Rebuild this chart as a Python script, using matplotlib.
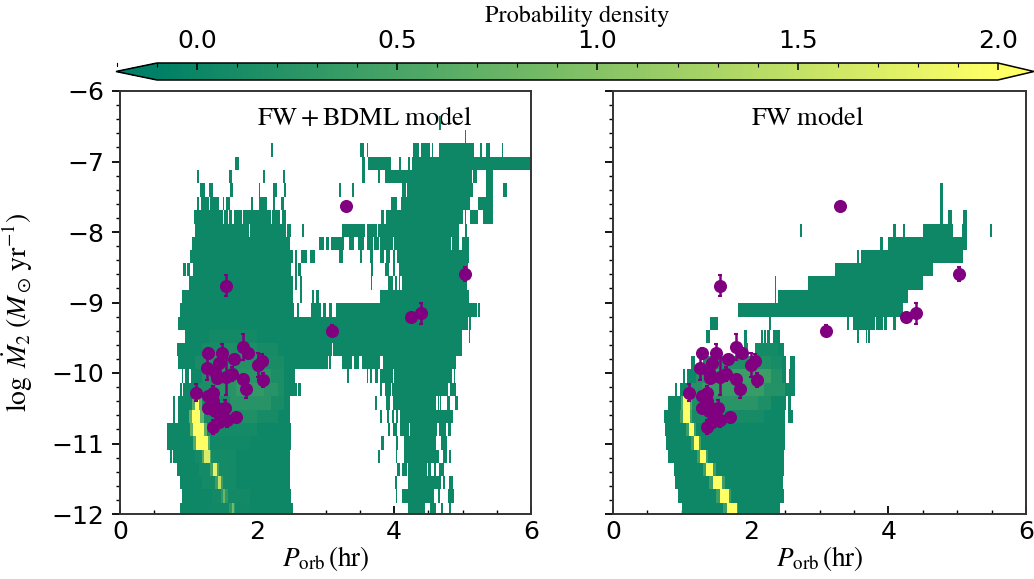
#!/usr/bin/env python3
# -*- coding: utf-8 -*-
import numpy as np
import matplotlib
matplotlib.use('Agg')
import matplotlib.pyplot as plt
from matplotlib.lines import Line2D
from matplotlib.ticker import MultipleLocator

plt.rcParams['mathtext.fontset'] = 'stix'

# edges of the log Mdot bins (row 0 is the one at the bottom)
mdot_edges = [-12.03, -11.84, -11.65, -11.46, -11.28, -11.09, -10.90, -10.71, -10.52, -10.33,
              -10.14, -9.95, -9.76, -9.58, -9.39, -9.20, -9.01, -8.82, -8.63, -8.44,
              -8.25, -8.07, -7.88, -7.69, -7.50, -7.31, -7.12, -6.93, -6.74, -6.55, -6.36]

base_level = 0.02

# occupied Porb ranges of each row, FW+BDML model
spans_bdml = [
    [(0.87, 2.53), (4.21, 4.45), (4.52, 4.62), (4.68, 4.71), (4.81, 4.83)],
    [(0.90, 2.50), (4.03, 4.05), (4.11, 4.59), (4.64, 4.67), (4.79, 4.87)],
    [(0.88, 2.48), (4.02, 4.04), (4.20, 4.68), (4.71, 4.75), (4.81, 4.86)],
    [(0.83, 2.48), (4.04, 4.09), (4.12, 4.19), (4.20, 4.48), (4.50, 4.54), (4.58, 4.61), (4.66, 4.73)],
    [(0.73, 0.76), (0.78, 2.48), (3.77, 3.79), (4.03, 4.05), (4.14, 4.66), (4.71, 4.77), (4.81, 4.83)],
    [(0.68, 2.50), (3.81, 3.85), (4.03, 4.06), (4.14, 4.62), (4.69, 4.77)],
    [(0.68, 2.50), (3.91, 3.94), (3.98, 4.05), (4.09, 4.22), (4.24, 4.63), (4.65, 4.76), (4.79, 4.83)],
    [(0.78, 0.80), (0.84, 2.48), (3.80, 3.83), (3.90, 3.92), (3.97, 4.00), (4.03, 4.06), (4.09, 4.86)],
    [(0.77, 0.80), (0.84, 2.48), (3.72, 3.75), (3.88, 3.94), (3.98, 4.62), (4.64, 4.66), (4.67, 4.69), (4.78, 4.82), (4.89, 4.93)],
    [(0.87, 0.90), (0.92, 2.58), (2.60, 2.64), (3.80, 3.83), (3.87, 3.95), (3.97, 4.79), (4.82, 4.87), (4.88, 4.90)],
    [(0.90, 0.92), (0.95, 1.00), (1.03, 2.56), (3.32, 3.35), (3.60, 3.62), (3.65, 3.68), (3.72, 3.77), (3.80, 3.98), (4.00, 4.84), (4.87, 4.89)],
    [(0.84, 3.03), (3.05, 3.08), (3.24, 3.39), (3.42, 3.49), (3.53, 3.80), (3.84, 4.90)],
    [(0.83, 3.09), (3.11, 4.99)],
    [(0.95, 4.99), (5.09, 5.11)],
    [(0.85, 0.87), (0.88, 5.08), (5.10, 5.13)],
    [(0.87, 2.54), (2.59, 2.61), (2.79, 2.94), (2.96, 3.01), (3.05, 3.09), (3.16, 5.21), (5.23, 5.26)],
    [(0.91, 2.53), (2.63, 2.66), (2.81, 2.83), (2.86, 2.90), (3.79, 5.10)],
    [(1.01, 2.53), (2.56, 2.59), (2.63, 2.65), (3.66, 3.68), (3.91, 3.99), (4.02, 4.05), (4.07, 4.09), (4.11, 5.06)],
    [(0.92, 0.96), (0.98, 1.02), (1.06, 2.50), (2.55, 2.58), (2.60, 2.64), (3.66, 3.69), (3.87, 3.92), (3.98, 4.01), (4.08, 5.08)],
    [(1.02, 2.53), (2.56, 2.59), (2.64, 2.73), (2.77, 2.85), (3.20, 3.25), (3.50, 3.53), (3.65, 3.69), (3.80, 3.85), (3.88, 3.94), (3.98, 4.01), (4.05, 5.10)],
    [(1.05, 2.48), (2.90, 2.98), (3.00, 3.05), (3.08, 3.27), (3.35, 3.42), (3.48, 3.56), (3.60, 3.69), (3.71, 3.78), (3.80, 3.99), (4.00, 4.83), (4.85, 4.95), (4.99, 5.10)],
    [(1.10, 1.88), (1.90, 2.42), (2.44, 2.50), (2.66, 2.69), (3.24, 3.58), (3.60, 3.75), (3.77, 4.95), (5.04, 5.06)],
    [(1.08, 1.50), (1.52, 1.57), (1.59, 1.64), (1.66, 1.78), (1.80, 2.20), (2.22, 2.34), (2.36, 2.42), (3.81, 3.85), (3.89, 5.00), (5.03, 5.05), (5.11, 5.23), (5.30, 5.44)],
    [(1.12, 1.16), (1.18, 1.30), (1.31, 1.45), (1.50, 1.52), (1.55, 1.60), (1.91, 1.94), (2.03, 2.14), (2.23, 2.26), (2.35, 2.39), (3.95, 4.05), (4.10, 5.11), (5.23, 5.45)],
    [(1.17, 1.24), (1.30, 1.36), (1.60, 1.65), (2.03, 2.05), (2.23, 2.29), (2.39, 2.42), (3.20, 3.23), (3.38, 3.42), (4.11, 4.17), (4.19, 5.16), (5.35, 5.45), (5.59, 5.65)],
    [(1.13, 1.16), (1.59, 1.63), (2.09, 2.11), (2.38, 2.41), (3.54, 3.58), (3.76, 3.79), (3.87, 5.14), (5.16, 5.21), (5.35, 5.45)],
    [(1.68, 1.74), (3.54, 3.58), (3.62, 3.96), (4.08, 4.10), (4.21, 4.24), (4.26, 6.00)],
    [(2.20, 2.24), (3.50, 3.56), (3.60, 3.62), (4.28, 4.37), (4.40, 4.52), (4.55, 4.57), (4.65, 5.17), (5.25, 5.29), (5.35, 5.40), (5.57, 5.59)],
    [(5.03, 5.05)],
    [(4.65, 4.69)],
]

# occupied Porb ranges of each row, FW model
spans_fw = [
    [(1.00, 2.43)],
    [(0.94, 2.48)],
    [(0.90, 2.47)],
    [(0.88, 2.48)],
    [(0.80, 2.48)],
    [(0.77, 2.50)],
    [(0.75, 2.50)],
    [(0.74, 2.50), (2.54, 2.61)],
    [(0.80, 2.52), (2.54, 2.58)],
    [(0.90, 0.93), (0.97, 2.64)],
    [(1.01, 1.04), (1.07, 2.52), (2.55, 2.64)],
    [(1.14, 1.19), (1.31, 2.52), (2.57, 2.64)],
    [(1.90, 1.96), (2.07, 2.49)],
    [(1.35, 1.41), (1.90, 1.95), (2.15, 2.18), (2.20, 2.22), (2.24, 2.28), (2.32, 2.43), (3.55, 3.57), (3.67, 3.69), (3.71, 3.73)],
    [(1.41, 1.53), (2.27, 2.30), (3.40, 3.43), (3.48, 3.80), (3.82, 3.92), (3.94, 3.98), (4.07, 4.11)],
    [(1.81, 2.67), (2.68, 4.22)],
    [(2.35, 2.37), (2.40, 4.29)],
    [(2.35, 2.37), (2.83, 4.51)],
    [(3.23, 4.65)],
    [(3.55, 3.58), (3.60, 5.09)],
    [(3.88, 3.92), (4.00, 5.14)],
    [(2.72, 2.75), (4.07, 4.11), (4.21, 4.24), (4.51, 4.94), (5.07, 5.14), (5.48, 5.50)],
    [(4.75, 4.79), (4.87, 4.92), (5.08, 5.15)],
    [(4.75, 4.79)],
    [(4.75, 4.79)],
]

# denser parts of the maps: row, Porb from, Porb to, density (later entries paint over earlier ones)
glow_bdml = [
    (13, 1.30, 2.00, 0.06), (12, 1.20, 2.30, 0.09), (12, 1.50, 2.00, 0.14), (11, 1.10, 2.40, 0.11),
    (11, 1.30, 2.10, 0.18), (10, 1.20, 2.40, 0.13), (10, 1.50, 2.20, 0.24), (9, 1.15, 2.40, 0.13),
    (9, 1.40, 2.30, 0.22), (9, 1.70, 2.10, 0.32), (8, 1.20, 2.40, 0.11), (8, 1.60, 2.20, 0.22),
    (7, 1.20, 2.30, 0.09), (7, 1.50, 2.00, 0.16), (6, 1.20, 2.00, 0.07), (5, 1.30, 1.90, 0.05),
    (4, 1.10, 1.70, 0.07), (3, 1.15, 1.70, 0.08), (2, 1.20, 1.70, 0.07), (1, 1.35, 1.90, 0.06),
    (0, 1.30, 1.90, 0.05),
    (8, 1.05, 1.20, 0.60), (7, 1.01, 1.22, 0.70), (6, 1.02, 1.27, 0.70), (5, 1.07, 1.32, 0.60),
    (4, 1.19, 1.33, 0.60), (3, 1.31, 1.45, 0.45), (2, 1.39, 1.50, 0.40), (1, 1.47, 1.57, 0.30),
    (0, 1.59, 1.68, 0.28),
    (8, 1.09, 1.16, 2.00), (7, 1.05, 1.17, 2.00), (6, 1.07, 1.22, 2.00), (5, 1.11, 1.28, 2.00),
    (4, 1.22, 1.31, 1.70), (3, 1.36, 1.42, 1.80), (2, 1.43, 1.47, 1.50), (1, 1.50, 1.54, 0.80),
    (0, 1.63, 1.66, 0.85),
]
glow_fw = [
    (12, 1.90, 2.40, 0.08), (11, 1.31, 2.45, 0.10), (11, 1.50, 2.30, 0.16), (10, 1.20, 2.45, 0.18),
    (10, 1.50, 2.30, 0.40), (9, 1.10, 2.50, 0.20), (9, 1.30, 2.20, 0.36), (8, 1.12, 2.30, 0.14),
    (8, 1.30, 2.10, 0.24), (7, 1.12, 2.20, 0.09),
    (8, 0.99, 1.15, 0.60), (7, 0.98, 1.15, 0.45), (6, 1.06, 1.21, 0.40), (5, 1.13, 1.28, 0.40),
    (4, 1.22, 1.38, 0.40), (3, 1.31, 1.50, 0.40), (2, 1.40, 1.62, 0.40), (1, 1.50, 1.72, 0.40),
    (0, 1.60, 1.82, 0.40),
    (8, 1.02, 1.12, 1.95), (7, 1.01, 1.12, 2.00), (6, 1.10, 1.18, 2.00), (5, 1.17, 1.25, 2.00),
    (4, 1.26, 1.35, 2.00), (3, 1.35, 1.46, 2.00), (2, 1.45, 1.58, 2.00), (1, 1.56, 1.69, 2.00),
    (0, 1.66, 1.80, 2.00),
]

# observed systems
porb_obs = [1.11, 1.29, 1.49, 1.79, 1.87, 1.67, 1.44, 1.27, 1.39, 1.41, 1.55, 1.64, 1.79, 1.84,
            2.01, 2.07, 2.09, 1.36, 1.29, 1.36, 1.29, 1.39, 1.53, 1.56, 1.70, 1.44, 1.36, 1.46,
            3.10, 3.30, 1.55, 4.25, 4.40, 5.03]
mdot_obs = [-10.28, -9.72, -9.71, -9.63, -9.71, -9.80, -9.86, -9.93, -9.98, -10.07, -10.05, -10.01,
            -10.08, -10.22, -9.88, -9.83, -10.10, -10.28, -10.33, -10.40, -10.50, -10.54, -10.50,
            -10.66, -10.63, -10.70, -10.76, -10.54, -9.40, -7.63, -8.76, -9.20, -9.15, -8.60]
err_obs = [0.12, 0.08, 0.12, 0.18, 0.0, 0.05, 0.05, 0.17, 0.05, 0.05, 0.26, 0.10, 0.05, 0.13,
           0.17, 0.10, 0.10, 0.10, 0.05, 0.05, 0.05, 0.05, 0.12, 0.10, 0.0, 0.05, 0.10, 0.10,
           0.08, 0.0, 0.15, 0.0, 0.15, 0.10]

panel_titles = [r'$\rm FW+BDML\ model$', r'$\rm FW\ model$']
cbar_ticks = [0.0, 0.5, 1.0, 1.5, 2.0]

W, H = 1034., 579.
fig = plt.figure(figsize=(W/100, H/100), dpi=100)
ax1 = fig.add_axes([120/W, (H-514)/H, 411/W, 423/H])
ax2 = fig.add_axes([613/W, (H-514)/H, 413/W, 423/H])
cax = fig.add_axes([116/W, (H-80)/H, 918/W, 17/H])

porb_edges = np.linspace(0, 6, 601)
porb_mid = 0.5*(porb_edges[1:] + porb_edges[:-1])


def make_map(spans, glow):
    grid = np.full((len(mdot_edges)-1, len(porb_mid)), np.nan)
    for k, row in enumerate(spans):
        for x0, x1 in row:
            grid[k, (porb_mid >= x0) & (porb_mid < x1)] = base_level
    for k, x0, x1, val in glow:
        sel = (porb_mid >= x0) & (porb_mid < x1) & ~np.isnan(grid[k])
        grid[k, sel] = val
    return np.ma.masked_invalid(grid)


cmap = plt.get_cmap('summer')
for ax, spans, glow, title, title_x in zip([ax1, ax2], [spans_bdml, spans_fw], [glow_bdml, glow_fw],
                                           panel_titles, [0.595, 0.471]):
    cs = ax.pcolormesh(porb_edges, mdot_edges, make_map(spans, glow), cmap=cmap, vmin=-0.1, vmax=2.0, zorder=2)
    ax.errorbar(porb_obs, mdot_obs, yerr=err_obs, fmt='o', color='purple', ms=8.4, elinewidth=1.8,
                capsize=1.5, capthick=1.5, zorder=3)
    ax.text(title_x, 0.936, title, transform=ax.transAxes, fontsize=19, ha='center', va='center', zorder=1)
    ax.set_xlim(0, 6)
    ax.set_ylim(-12, -6)
    ax.set_xticks([0, 2, 4, 6])
    ax.set_yticks([-12, -11, -10, -9, -8, -7, -6])
    ax.xaxis.set_minor_locator(MultipleLocator(0.5))
    ax.yaxis.set_minor_locator(MultipleLocator(0.2))
    ax.tick_params(axis='x', which='major', direction='in', length=6, width=1.3, labelsize=18, pad=4)
    ax.tick_params(axis='x', which='minor', direction='in', length=3, width=1)
    ax.tick_params(axis='y', which='major', direction='out', length=6, width=1.3, labelsize=18, pad=5.5)
    ax.tick_params(axis='y', which='minor', direction='out', length=3, width=1)
    for s in ax.spines.values():
        s.set_linewidth(1.4)
        s.set_color('#333333')
    ax.set_xlabel(r'$P_{\rm orb}\,({\rm hr})$', fontsize=19.5, labelpad=0)

ax2.set_yticklabels([])
ax1.set_ylabel(r'$\log\;\dot{M}_2\;(M_\odot\,{\rm yr^{-1}})$', fontsize=20)
ax1.yaxis.set_label_coords(-0.207, 0.476)

cb = fig.colorbar(cs, cax=cax, orientation='horizontal', extend='both', extendfrac=[0.0488, 0.043])
cb.set_ticks(cbar_ticks)
cax.xaxis.set_ticks_position('top')
cax.xaxis.set_label_position('top')
cax.xaxis.set_minor_locator(MultipleLocator(0.1))
cax.tick_params(axis='x', which='major', direction='in', length=5, width=1.1, labelsize=18, pad=7)
cax.tick_params(axis='x', which='minor', direction='in', length=3, width=0.8)
# stray minor tick that sits above the lower arrow
cax.add_line(Line2D([-0.2, -0.2], [0.82, 1.0], transform=cax.get_xaxis_transform(), clip_on=False,
                    color='k', lw=0.8))
cb.outline.set_linewidth(1.1)
cb.set_label('Probability density', family='STIXGeneral', fontsize=17.5, labelpad=5)

fig.savefig('out.png', dpi=100)
